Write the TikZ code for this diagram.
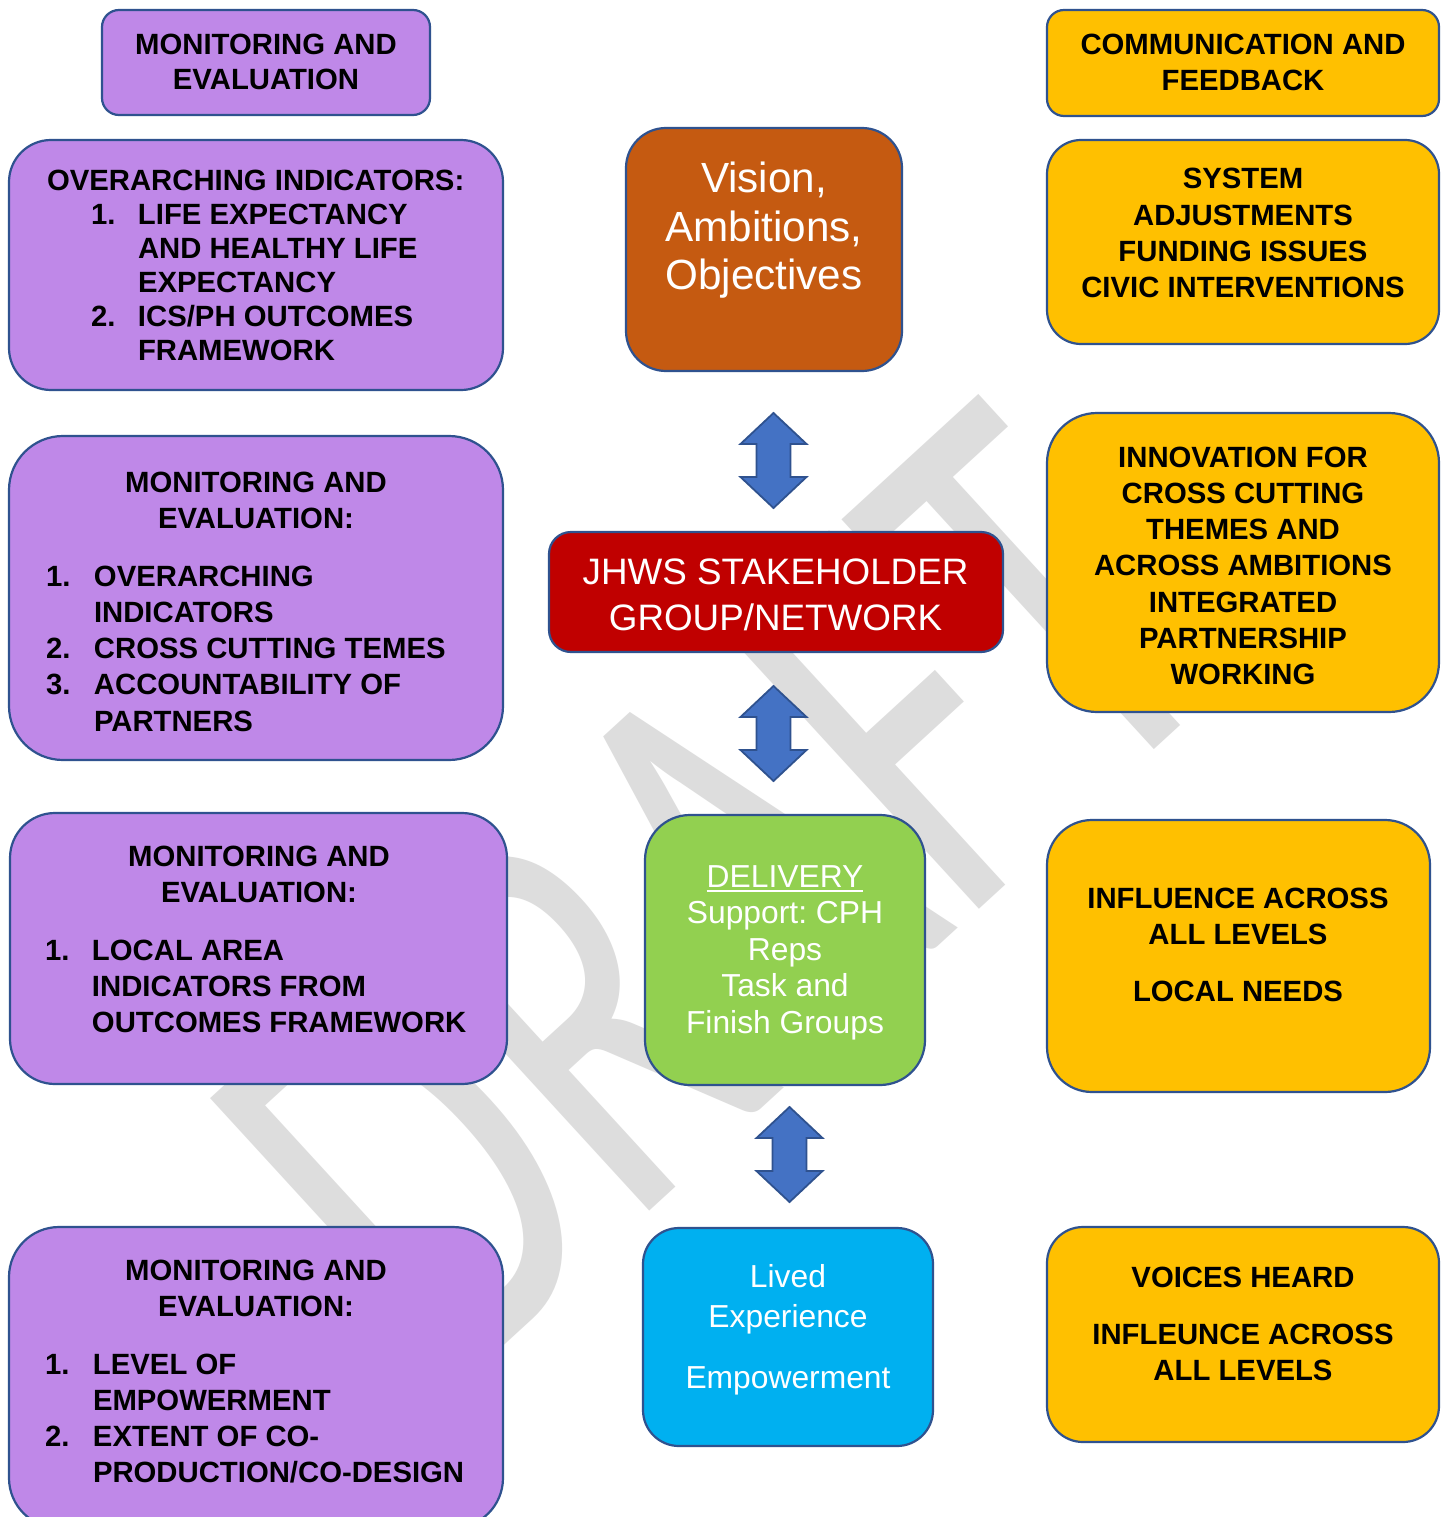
\documentclass[tikz,border=0pt]{standalone}
\usepackage{fontspec}
\setmainfont{Liberation Sans}
\newfontfamily\wmfont{Carlito}
\definecolor{purp}{RGB}{191,136,232}
\definecolor{yel}{RGB}{255,192,0}
\definecolor{grn}{RGB}{146,208,80}
\definecolor{sky}{RGB}{0,176,240}
\definecolor{rust}{RGB}{197,90,17}
\definecolor{dred}{RGB}{192,0,0}
\definecolor{edge}{RGB}{47,82,143}
\definecolor{arrowfill}{RGB}{68,114,196}
\definecolor{wmgray}{RGB}{221,221,221}
\newcommand{\ctab}[1]{\begin{tabular}[t]{@{}c@{}}#1\end{tabular}}
\newcommand{\lsttab}[2]{\begin{tabular}[t]{@{}p{#1}@{}l@{}}#2\end{tabular}}
\newcommand{\ulword}[1]{\setbox0\hbox{#1}\rlap{\rule[-5pt]{\wd0}{2pt}}\box0}
\frenchspacing
\tikzset{
  box/.style={draw=edge, line width=2.2pt, inner sep=0pt, outer sep=0pt},
  btxt/.style={inner sep=0pt, outer sep=0pt, font=\fontsize{29.3}{36.3}\selectfont\bfseries},
  wtxt/.style={inner sep=0pt, outer sep=0pt, text=white},
  arrowstyle/.style={fill=arrowfill, draw=edge, line width=1.8pt, line join=miter},
  dblarrow/.pic={\draw[arrowstyle] (0,-47.5) -- (33,-16.5) -- (17,-16.5) -- (17,16.5) -- (33,16.5) -- (0,47.5) -- (-33,16.5) -- (-17,16.5) -- (-17,-16.5) -- (-33,-16.5) -- cycle;}
}
\begin{document}
\begin{tikzpicture}[x=1pt,y=-1pt]
\fill[white] (0,0) rectangle (1451,1517);
\useasboundingbox (0,0) rectangle (1451,1517);

% watermark
\node[inner sep=0pt, outer sep=0pt, anchor=base west, rotate=42.5, xscale=0.675,
      text=wmgray, font=\wmfont\fontsize{593}{600}\selectfont] (draft) at (447,1397) {DRAFT};

% left column boxes
\node[box, fill=purp, rounded corners=17pt, minimum width=328pt, minimum height=105pt] (m1) at (266,62.5) {};
\node[box, fill=purp, rounded corners=42pt, minimum width=494pt, minimum height=250pt] (m2) at (256,265) {};
\node[box, fill=purp, rounded corners=54pt, minimum width=494pt, minimum height=324pt] (m3) at (256,598) {};
\node[box, fill=purp, rounded corners=45pt, minimum width=497pt, minimum height=271pt] (m4) at (258.5,948.5) {};
\node[box, fill=purp, rounded corners=50pt, minimum width=494pt, minimum height=301pt] (m5) at (256,1377.5) {};

% centre column boxes
\node[box, fill=rust, rounded corners=40pt, minimum width=276pt, minimum height=243pt] (vis) at (764,249.5) {};
\node[box, fill=dred, rounded corners=22pt, minimum width=454pt, minimum height=120pt] (jh) at (776,592) {};
\node[box, fill=grn, rounded corners=45pt, minimum width=280pt, minimum height=270pt] (del) at (785,950) {};
\node[box, fill=sky, rounded corners=36pt, minimum width=290pt, minimum height=218pt] (liv) at (788,1337) {};

% right column boxes
\node[box, fill=yel, rounded corners=17pt, minimum width=392pt, minimum height=106pt] (c1) at (1243,63) {};
\node[box, fill=yel, rounded corners=34pt, minimum width=392pt, minimum height=204pt] (c2) at (1243,242) {};
\node[box, fill=yel, rounded corners=50pt, minimum width=392pt, minimum height=299pt] (c3) at (1243,562.5) {};
\node[box, fill=yel, rounded corners=45pt, minimum width=383pt, minimum height=272pt] (c4) at (1238.5,956) {};
\node[box, fill=yel, rounded corners=36pt, minimum width=392pt, minimum height=215pt] (c5) at (1243,1334.5) {};

% double arrows
\pic (a1) at (773.5,460.5) {dblarrow};
\pic (a2) at (773.5,733.5) {dblarrow};
\pic (a3) at (789.5,1154.5) {dblarrow};

% left texts
\node[btxt, anchor=base] (m1t) at (266,55) {\ctab{MONITORING AND\\[-1.3pt]EVALUATION}};
\node[btxt, anchor=base west] (m2h) at (47,191) {OVERARCHING INDICATORS:};
\node[btxt, anchor=base west, font=\fontsize{29.3}{33.8}\selectfont\bfseries] (m2l) at (91,225)
  {\lsttab{47pt}{1. & LIFE EXPECTANCY\\ & AND HEALTHY LIFE\\ & EXPECTANCY\\ 2. & ICS/PH OUTCOMES\\ & FRAMEWORK}};
\node[btxt, anchor=base] (m3h) at (256,492) {\ctab{MONITORING AND\\EVALUATION:}};
\node[btxt, anchor=base west] (m3l) at (46,586)
  {\lsttab{48pt}{1. & OVERARCHING\\ & INDICATORS\\ 2. & CROSS CUTTING TEMES\\ 3. & ACCOUNTABILITY OF\\ & PARTNERS}};
\node[btxt, anchor=base] (m4h) at (259,866) {\ctab{MONITORING AND\\EVALUATION:}};
\node[btxt, anchor=base west] (m4l) at (45,960)
  {\lsttab{47pt}{1. & LOCAL AREA\\ & INDICATORS FROM\\ & OUTCOMES FRAMEWORK}};
\node[btxt, anchor=base] (m5h) at (256,1280) {\ctab{MONITORING AND\\EVALUATION:}};
\node[btxt, anchor=base west, font=\fontsize{29.3}{36}\selectfont\bfseries] (m5l) at (45,1374)
  {\lsttab{48pt}{1. & LEVEL OF\\ & EMPOWERMENT\\ 2. & EXTENT OF CO-\\ & PRODUCTION/CO-DESIGN}};

% centre texts
\node[wtxt, anchor=base, font=\fontsize{42.2}{48.5}\selectfont] (vist) at (764,193) {\ctab{Vision,\\Ambitions,\\Objectives}};
\node[wtxt, anchor=base, font=\fontsize{36.8}{46}\selectfont] (jht) at (775.5,584) {\ctab{JHWS STAKEHOLDER\\GROUP/NETWORK}};
\node[wtxt, anchor=base, font=\fontsize{31.8}{36.6}\selectfont] (delt) at (785,887) {\ctab{\ulword{DELIVERY}\\Support: CPH\\Reps\\Task and\\Finish Groups}};
\node[wtxt, anchor=base, font=\fontsize{31.8}{40}\selectfont] (livt) at (788,1287.6) {\ctab{Lived\\Experience\\[20.5pt]Empowerment}};

% right texts
\node[btxt, anchor=base] (c1t) at (1243,54.5) {\ctab{COMMUNICATION AND\\FEEDBACK}};
\node[btxt, anchor=base] (c2t) at (1243,189) {\ctab{SYSTEM\\ADJUSTMENTS\\FUNDING ISSUES\\CIVIC INTERVENTIONS}};
\node[btxt, anchor=base] (c3t) at (1243,467) {\ctab{INNOVATION FOR\\CROSS CUTTING\\THEMES AND\\ACROSS AMBITIONS\\INTEGRATED\\PARTNERSHIP\\WORKING}};
\node[btxt, anchor=base] (c4t) at (1238,908) {\ctab{INFLUENCE ACROSS\\ALL LEVELS\\[20.7pt]LOCAL NEEDS}};
\node[btxt, anchor=base] (c5t) at (1243,1287) {\ctab{VOICES HEARD\\[20.7pt]INFLEUNCE ACROSS\\ALL LEVELS}};
\end{tikzpicture}
\end{document}
